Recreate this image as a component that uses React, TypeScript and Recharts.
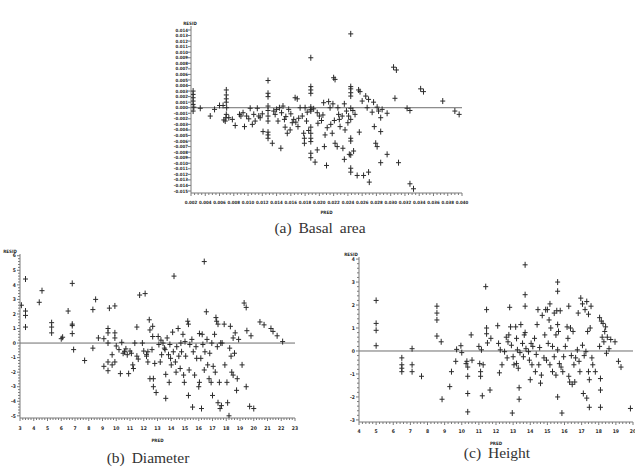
import React from "react";
import {
  ScatterChart,
  Scatter,
  XAxis,
  YAxis,
  ReferenceLine,
  Label,
} from "recharts";

// residual vs predicted
const basalPoints: [number, number][] = [
  [0.0023, 0.003], [0.0023, 0.0024], [0.0023, 0.0018], [0.0023, 0.0012], [0.0023, 0.0006], [0.0024, 0.0001], [0.0023, -0.0006],
  [0.0033, -0.0001], [0.0047, -0.0015], [0.0053, -0.0003], [0.006, 0.0004], [0.0065, 0.0004],
  [0.00695, 0.0032], [0.00695, 0.0023], [0.00695, 0.0016], [0.00695, 0.001], [0.007, 0], [0.00695, -0.0012], [0.0069, -0.0018], [0.0068, -0.0024],
  [0.0066, -0.0022], [0.0073, -0.0018], [0.0078, -0.0021], [0.0082, -0.0032], [0.0088, -0.0012], [0.009, -0.0015], [0.0093, -0.0009],
  [0.0095, -0.0034], [0.0098, -0.0015], [0.0101, -0.002], [0.0103, -0.0001], [0.0106, -0.003], [0.0108, -0.0012], [0.011, -0.0024],
  [0.0113, -0.0001], [0.0115, -0.0015], [0.0117, -0.0018], [0.012, -0.0011], [0.0121, -0.0043],
  [0.0128, 0.0049], [0.0128, 0.0026], [0.0128, 0.002], [0.0128, 0.0003], [0.0128, -0.0005], [0.0128, -0.0015], [0.0128, -0.0024],
  [0.0128, -0.0044], [0.0128, -0.0049], [0.0128, -0.0055],
  [0.0134, -0.0064], [0.0136, -0.0006], [0.0138, -0.0012], [0.014, -0.0003], [0.0142, -0.0024], [0.0144, 0], [0.0146, -0.0073],
  [0.0147, -0.0009], [0.0149, 0.0003], [0.0151, -0.0021], [0.0152, -0.0035], [0.0153, -0.0016], [0.0155, -0.0046], [0.0157, -0.0003],
  [0.0159, -0.004], [0.016, -0.0011], [0.0162, -0.0027], [0.0164, -0.0021], [0.0166, 0.0018], [0.0167, -0.0026], [0.0169, 0.0016],
  [0.017, -0.0034], [0.0171, -0.0019], [0.0173, 0], [0.0176, -0.0015], [0.0178, -0.0046], [0.018, 0], [0.0182, -0.0024], [0.0183, -0.0008],
  [0.0185, -0.0041], [0.0179, -0.0055], [0.0179, -0.0064],
  [0.0188, 0.009], [0.0188, 0.0038], [0.0188, 0.0032], [0.0188, 0.0026], [0.0188, 0.0001], [0.0188, -0.0003], [0.0188, -0.0006],
  [0.0188, -0.0035], [0.0188, -0.0046], [0.0188, -0.0055], [0.0188, -0.0061], [0.0188, -0.0082], [0.0188, -0.009],
  [0.0192, -0.0002], [0.0194, -0.0098], [0.0197, -0.0076], [0.0197, -0.0009], [0.0198, -0.0028], [0.02, -0.0015], [0.0203, -0.0023],
  [0.0205, -0.0013], [0.0206, 0.0009], [0.0207, -0.007], [0.0208, -0.0049], [0.021, -0.0104], [0.0211, -0.0036], [0.0213, 0.0011],
  [0.0215, 0], [0.0216, -0.003], [0.0218, -0.0046], [0.0219, 0.0007], [0.022, 0.0054], [0.0222, 0.0051], [0.0221, -0.0023],
  [0.0222, -0.0064], [0.0225, -0.007], [0.0226, 0], [0.0227, -0.0012], [0.0228, -0.0021], [0.0229, -0.0034], [0.0232, -0.0015],
  [0.0233, -0.0073], [0.0235, 0.0007], [0.0235, -0.0093], [0.0236, -0.004], [0.0238, -0.0006], [0.024, -0.0027], [0.0241, -0.0015],
  [0.0244, 0.0133], [0.0244, 0.0038], [0.0244, 0.0034], [0.0244, 0.0027], [0.0244, 0.0021], [0.0244, -0.0001], [0.0244, -0.0021],
  [0.0244, -0.0055], [0.0244, -0.006], [0.0244, -0.0085], [0.0244, -0.0109], [0.0244, -0.0116],
  [0.0242, -0.0084], [0.0247, -0.0005], [0.0248, -0.0078], [0.025, -0.0012], [0.0253, -0.0122], [0.0255, 0.0032], [0.0256, -0.0044],
  [0.0257, 0.0029], [0.026, 0.0012], [0.0262, -0.0122], [0.0265, 0.0021], [0.0267, 0], [0.0269, 0.0015], [0.0269, -0.0116],
  [0.027, -0.0134], [0.0274, -0.0008], [0.0276, 0.001], [0.0277, -0.0034], [0.0279, -0.0064], [0.0281, -0.007], [0.0281, 0.0001],
  [0.0283, -0.0006], [0.0286, -0.0043], [0.0286, -0.0099], [0.0286, -0.0018], [0.0288, -0.0003], [0.0295, -0.001], [0.0295, -0.0084],
  [0.0304, 0.0073], [0.0308, 0.0068], [0.0306, 0.0017], [0.0311, -0.0099], [0.0323, -0.0001], [0.0327, -0.0137], [0.0327, -0.0005],
  [0.0332, -0.0146], [0.0342, 0.0034], [0.0346, 0.0029], [0.0373, 0.0012], [0.039, -0.0006], [0.0396, -0.0012],
];

const diameterPoints: [number, number][] = [
  [3.1, 2.6], [3.4, 4.4], [3.4, 2.2], [3.4, 1.9], [3.4, 1.1], [4.4, 2.8], [4.6, 3.6], [5.3, 1.4], [5.3, 1.1], [5.3, 0.7],
  [6.0, 0.3], [6.1, 0.4], [6.5, 2.2], [6.8, 4.1], [6.8, 1.3], [6.8, 1.2], [6.8, 0.65], [6.9, -0.45], [7.7, -1.2],
  [8.3, 2.3], [8.3, -0.35], [8.5, 3.0], [8.7, 0.35], [9.1, 0.3], [9.1, -1.6], [9.4, -1.9], [9.4, 1.0], [9.4, 0.7], [9.4, 0],
  [9.4, -1.3], [9.5, 2.4], [9.7, -0.8], [9.7, -1.5], [9.9, 2.55], [9.9, 0.7], [9.9, 0.35], [9.9, -1.3], [10, -0.2],
  [10.2, -0.45], [10.3, -2.1], [10.4, 0.05], [10.5, -0.7], [10.6, -0.6], [10.7, -0.4], [10.8, -0.8], [10.9, -2.1], [11, -0.55],
  [11.1, -0.7], [11.2, -1.5], [11.25, -1.75], [11.35, 0], [11.5, 1.1], [11.5, -0.9], [11.6, -1.1], [11.7, 3.3], [11.9, 0],
  [12.0, -0.55], [12.1, 3.4], [12.2, -0.9], [12.2, -0.8], [12.3, -1.3], [12.3, -0.6], [12.4, 1.6], [12.45, 0.9], [12.45, -2.45],
  [12.6, -0.45], [12.65, 1.15], [12.65, 0.45], [12.7, -2.45], [12.7, -3.0], [12.8, -1.4], [12.9, -3.4], [13.05, 0.45],
  [13.1, -0.1], [13.2, -1.3], [13.25, 0.2], [13.3, -0.8], [13.4, 0], [13.5, -0.35], [13.55, -0.45], [13.6, -3.8], [13.6, -2.15],
  [13.7, 0.35], [13.8, -0.8], [13.85, -2.7], [13.9, -0.1], [13.95, -1.05], [14.0, -1.5], [14.1, 0.75], [14.15, -0.6],
  [14.2, 4.6], [14.3, -1.3], [14.35, -2.0], [14.4, -0.25], [14.5, 1.0], [14.55, -0.9], [14.65, -1.75], [14.7, 0], [14.75, -0.6],
  [14.85, 0.6], [14.9, -2.2], [14.95, -2.7], [15.0, 0.1], [15.05, -0.9], [15.2, 1.5], [15.25, 1.3], [15.25, -3.6], [15.3, -1.85],
  [15.35, -0.1], [15.5, 0.25], [15.55, -4.4], [15.6, -0.6], [15.7, -2.2], [15.8, -0.25], [15.85, -1.05], [16.0, -3.0],
  [16.05, -2.7], [16.05, 0.65], [16.15, -1.05], [16.2, -4.5], [16.25, 0.6], [16.3, -0.1], [16.4, 5.6], [16.4, -1.85],
  [16.45, -0.6], [16.55, 2.15], [16.6, 0.25], [16.65, -1.5], [16.75, -2.45], [16.8, -0.7], [16.9, -2.7], [16.95, 0],
  [17.0, -3.6], [17.05, -1.6], [17.15, 0.6], [17.2, -2.0], [17.25, 1.75], [17.3, 1.5], [17.35, -0.25], [17.4, -4.1], [17.4, 1.3],
  [17.5, -2.7], [17.55, -4.5], [17.6, 0], [17.65, -4.3], [17.7, 0], [17.85, 1.3], [17.9, -1.5], [18.05, -2.7], [18.1, -4.1],
  [18.2, -5.0], [18.25, -0.35], [18.3, 1.15], [18.35, -0.9], [18.4, -2.0], [18.5, 0.35], [18.5, -2.2], [18.6, -0.7],
  [18.65, 0.7], [18.75, -3.25], [18.8, -2.45], [18.9, 0.25], [19.15, -1.5], [19.3, 2.75], [19.45, 2.45], [19.45, -3.0],
  [19.5, 0.85], [19.7, -4.35], [19.8, 0.5], [20.0, -4.5], [20.45, 1.45], [20.75, 1.25], [21.25, 1.0], [21.4, 0.8], [21.7, 0.5],
  [22.1, 0.1],
];

const heightPoints: [number, number][] = [
  [5.0, 2.2], [5.0, 1.2], [5.0, 0.9], [5.0, 0.23], [6.5, -0.3], [6.5, -0.6], [6.5, -0.75], [6.5, -0.9], [7.1, 0.1], [7.1, -0.6],
  [7.1, -0.9], [7.65, -1.1], [8.55, 1.95], [8.55, 1.65], [8.55, 1.35], [8.55, 0.65], [8.8, 0.4], [8.85, -2.1], [9.3, -1.55],
  [9.4, -0.9], [9.65, -0.45], [9.7, 0.07], [9.95, 0.23], [10.0, -0.07], [10.25, -0.55], [10.3, -0.45], [10.35, -0.7],
  [10.35, -1.1], [10.35, -1.85], [10.35, -2.65], [10.55, 0.7], [10.6, -0.4], [11.0, 0.2], [11.05, -0.55], [11.1, -0.9],
  [11.1, -1.1], [11.15, 0.05], [11.2, -1.95], [11.25, -0.6], [11.4, 2.8], [11.45, 1.8], [11.45, 1.0], [11.45, 0.75],
  [11.5, 0.35], [11.65, -1.7], [11.7, 0.55], [12.1, 1.1], [12.15, 0.33], [12.2, -0.95], [12.25, 0.05], [12.35, -0.6],
  [12.5, -0.03], [12.6, 0.6], [12.65, -0.3], [12.7, 0.4], [12.75, 0.7], [12.8, 1.9], [12.85, 1.05], [12.9, 0.25], [12.95, -2.7],
  [13.0, -0.25], [13.05, -0.6], [13.15, 1.05], [13.2, -0.55], [13.2, 0.55], [13.25, 0.05], [13.3, -0.75], [13.35, -1.6],
  [13.35, -2.1], [13.4, -0.07], [13.45, 1.15], [13.55, 0.33], [13.6, -0.25], [13.65, 0.7], [13.7, 3.75], [13.7, 2.45],
  [13.7, 1.95], [13.7, 0.8], [13.75, 0.1], [13.9, -0.03], [13.95, -0.4], [14.0, -1.25], [14.05, 0.33], [14.1, -0.6],
  [14.15, 0.2], [14.25, 0.55], [14.3, -0.9], [14.35, -0.15], [14.4, 1.15], [14.45, 1.8], [14.5, -0.6], [14.55, 0.15],
  [14.6, -1.4], [14.65, -1.05], [14.7, 1.55], [14.8, -0.3], [14.85, 0.7], [14.9, 1.8], [14.95, -0.4], [15.0, 1.8], [15.05, 0.33],
  [15.1, 1.35], [15.15, 2.05], [15.15, -0.6], [15.2, 1.0], [15.3, -0.9], [15.3, 0.2], [15.4, -0.25], [15.4, 1.65], [15.5, 0.7],
  [15.5, -1.05], [15.55, 1.75], [15.6, 3.0], [15.6, 2.6], [15.6, 1.15], [15.6, -2.0], [15.6, 0.05], [15.65, 0.85], [15.7, -0.55],
  [15.75, 1.75], [15.8, -0.7], [15.85, -2.7], [15.9, -0.9], [15.95, -0.25], [16.05, 0.2], [16.15, 1.05], [16.2, 0.55],
  [16.25, 1.95], [16.25, -1.1], [16.3, -1.35], [16.35, 1.0], [16.4, -0.2], [16.45, -1.45], [16.5, 0.85], [16.55, -0.6],
  [16.6, -1.35], [16.65, -0.3], [16.75, 0.05], [16.8, 1.65], [16.85, -0.45], [16.9, -0.9], [16.95, 2.3], [17.05, 0.25],
  [17.05, 2.05], [17.1, -1.85], [17.15, -0.2], [17.2, 1.8], [17.25, -0.03], [17.3, 2.15], [17.3, -2.05], [17.35, 0.85],
  [17.4, -0.9], [17.4, 1.6], [17.45, -1.25], [17.45, -2.45], [17.5, 1.0], [17.55, 1.95], [17.6, -0.3], [17.65, -0.6],
  [17.8, -0.9], [18.05, 1.45], [18.05, 0.2], [18.1, -1.2], [18.1, -1.7], [18.1, -2.45], [18.15, 1.3], [18.2, 0.6], [18.25, 1.2],
  [18.3, 0.4], [18.35, 0.85], [18.4, 1.05], [18.45, -0.1], [18.5, 0.6], [18.6, 0.1], [18.7, 0.5], [18.95, 0.4], [19.15, -0.45],
  [19.3, -0.7], [19.85, -2.5],
];

// labelled ticks
const basalXTicks = [0.002, 0.004, 0.006, 0.008, 0.01, 0.012, 0.014, 0.016, 0.018, 0.02, 0.022, 0.024, 0.026, 0.028, 0.03, 0.032, 0.034, 0.036, 0.038, 0.04];
const basalYTicks = [
  -0.015, -0.014, -0.013, -0.012, -0.011, -0.01, -0.009, -0.008, -0.007, -0.006, -0.005, -0.004, -0.003, -0.002, -0.001,
  0, 0.001, 0.002, 0.003, 0.004, 0.005, 0.006, 0.007, 0.008, 0.009, 0.01, 0.011, 0.012, 0.013, 0.014,
];
const diameterXTicks = [3, 4, 5, 6, 7, 8, 9, 10, 11, 12, 13, 14, 15, 16, 17, 18, 19, 20, 21, 22, 23];
const diameterYTicks = [-5, -4, -3, -2, -1, 0, 1, 2, 3, 4, 5, 6];
const heightXTicks = [4, 5, 6, 7, 8, 9, 10, 11, 12, 13, 14, 15, 16, 17, 18, 19, 20];
const heightYTicks = [-3, -2, -1, 0, 1, 2, 3, 4];

const AXIS = "#7a7a7a";
const INK = "#2b2b2b";
const TICK_FONT = "'DejaVu Sans Condensed', 'DejaVu Sans', sans-serif";

// add unlabeled minor ticks between the labelled ones
function withMinor(majors: number[], parts: number) {
  const out: number[] = [];
  for (let i = 0; i < majors.length; i++) {
    out.push(majors[i]);
    if (i < majors.length - 1) {
      const step = (majors[i + 1] - majors[i]) / parts;
      for (let k = 1; k < parts; k++) out.push(+(majors[i] + step * k).toFixed(6));
    }
  }
  return out;
}

const isMajor = (majors: number[], v: number) => majors.some((m) => Math.abs(m - v) < 1e-9);

function XTick(props: any) {
  const { x, y, payload, majors, digits, fontSize, gap } = props;
  const major = isMajor(majors, payload.value);
  return (
    <g>
      <line x1={x} x2={x} y1={y} y2={y + (major ? 3 : 2)} stroke={AXIS} />
      {major && (
        <text x={x} y={y + gap} textAnchor="middle" fontSize={fontSize} fontFamily={TICK_FONT} fontWeight="bold" fill={INK}>
          {Number(payload.value).toFixed(digits)}
        </text>
      )}
    </g>
  );
}

function YTick(props: any) {
  const { x, y, payload, majors, digits, fontSize, gap } = props;
  const major = isMajor(majors, payload.value);
  return (
    <g>
      <line x1={x - (major ? 3 : 2)} x2={x} y1={y} y2={y} stroke={AXIS} />
      {major && (
        <text x={x - gap} y={y + fontSize * 0.35} textAnchor="end" fontSize={fontSize} fontFamily={TICK_FONT} fontWeight="bold" fill={INK}>
          {Number(payload.value).toFixed(digits)}
        </text>
      )}
    </g>
  );
}

function Plus(props: any) {
  const { cx, cy } = props;
  if (cx == null || cy == null) return null;
  return <path d={`M${cx - 2.5},${cy}h5M${cx},${cy - 3}v6`} stroke={INK} strokeWidth={1} fill="none" />;
}

interface PanelProps {
  points: [number, number][];
  xTicks: number[];
  yTicks: number[];
  xMinor: number;
  yMinor: number;
  xDomain: [number, number];
  yDomain: [number, number];
  digits: number;
  fontSize: number;
  width: number;
  height: number;
  margin: { top: number; right: number; bottom: number; left: number };
  yAxisWidth: number;
  xGap: number;
  yGap: number;
  predDy: number;
  residDx: number;
}

function Panel(p: PanelProps) {
  const data = p.points.map(([pred, resid]) => ({ pred, resid }));
  return (
    <ScatterChart width={p.width} height={p.height} margin={p.margin}>
      <XAxis
        type="number"
        dataKey="pred"
        domain={p.xDomain}
        ticks={withMinor(p.xTicks, p.xMinor)}
        interval={0}
        allowDataOverflow
        tickSize={0}
        tickMargin={0}
        tickLine={false}
        height={20}
        axisLine={{ stroke: AXIS }}
        tick={(t: any) => <XTick {...t} majors={p.xTicks} digits={p.digits} fontSize={p.fontSize} gap={p.xGap} />}
      >
        <Label
          content={(l: any) => {
            const vb = l.viewBox;
            return (
              <text x={vb.x + vb.width / 2} y={vb.y + p.predDy} textAnchor="middle" fontSize={4.5} fontFamily={TICK_FONT} fontWeight="bold" fill={INK}>
                PRED
              </text>
            );
          }}
        />
      </XAxis>
      <YAxis
        type="number"
        dataKey="resid"
        domain={p.yDomain}
        ticks={p.yMinor > 1 ? withMinor(p.yTicks, p.yMinor) : p.yTicks}
        interval={0}
        allowDataOverflow
        tickSize={0}
        tickMargin={0}
        tickLine={false}
        width={p.yAxisWidth}
        axisLine={{ stroke: AXIS }}
        tick={(t: any) => <YTick {...t} majors={p.yTicks} digits={p.digits} fontSize={p.fontSize} gap={p.yGap} />}
      >
        <Label
          content={(l: any) => {
            const vb = l.viewBox;
            return (
              <text x={vb.x + vb.width - p.residDx} y={vb.y - 1} textAnchor="middle" fontSize={4.5} fontFamily={TICK_FONT} fontWeight="bold" fill={INK}>
                RESID
              </text>
            );
          }}
        />
      </YAxis>
      <ReferenceLine y={0} stroke="#6e6e6e" strokeWidth={1} ifOverflow="hidden" />
      <Scatter data={data} shape={<Plus />} isAnimationActive={false} />
    </ScatterChart>
  );
}

const captionStyle: React.CSSProperties = {
  position: "absolute",
  fontFamily: "'Liberation Serif', 'DejaVu Serif', serif",
  fontSize: 15.5,
  color: "#333",
  wordSpacing: 3,
  textAlign: "center",
  whiteSpace: "nowrap",
  lineHeight: "18px",
};

export default function App() {
  return (
    <div style={{ position: "absolute", left: 0, top: 0, width: 635, height: 471, background: "#fff", overflow: "hidden" }}>
      <div style={{ position: "absolute", left: 150, top: 0 }}>
        <Panel
          points={basalPoints}
          xTicks={basalXTicks}
          yTicks={basalYTicks}
          xMinor={4}
          yMinor={1}
          xDomain={[0.002, 0.04]}
          yDomain={[-0.01536, 0.01472]}
          digits={3}
          fontSize={4.4}
          width={330}
          height={222}
          margin={{ top: 26, right: 18, bottom: 9, left: 0 }}
          yAxisWidth={41}
          xGap={11}
          yGap={3}
          predDy={21}
          residDx={1}
        />
      </div>
      <div style={{ ...captionStyle, left: 220, top: 219, width: 200 }}>(a) Basal area</div>

      <div style={{ position: "absolute", left: 0, top: 240 }}>
        <Panel
          points={diameterPoints}
          xTicks={diameterXTicks}
          yTicks={diameterYTicks}
          xMinor={5}
          yMinor={5}
          xDomain={[3, 23]}
          yDomain={[-5.15, 6.12]}
          digits={0}
          fontSize={5}
          width={310}
          height={210}
          margin={{ top: 14, right: 15, bottom: 12, left: 0 }}
          yAxisWidth={20}
          xGap={12}
          yGap={4}
          predDy={24}
          residDx={10}
        />
      </div>
      <div style={{ ...captionStyle, left: 48, top: 449, width: 200 }}>(b) Diameter</div>

      <div style={{ position: "absolute", left: 320, top: 240 }}>
        <Panel
          points={heightPoints}
          xTicks={heightXTicks}
          yTicks={heightYTicks}
          xMinor={5}
          yMinor={5}
          xDomain={[4, 20]}
          yDomain={[-3.09, 4.09]}
          digits={0}
          fontSize={5}
          width={315}
          height={210}
          margin={{ top: 17, right: 2, bottom: 8, left: 0 }}
          yAxisWidth={39}
          xGap={11}
          yGap={4}
          predDy={22.5}
          residDx={8}
        />
      </div>
      <div style={{ ...captionStyle, left: 397, top: 444, width: 200 }}>(c) Height</div>
    </div>
  );
}
